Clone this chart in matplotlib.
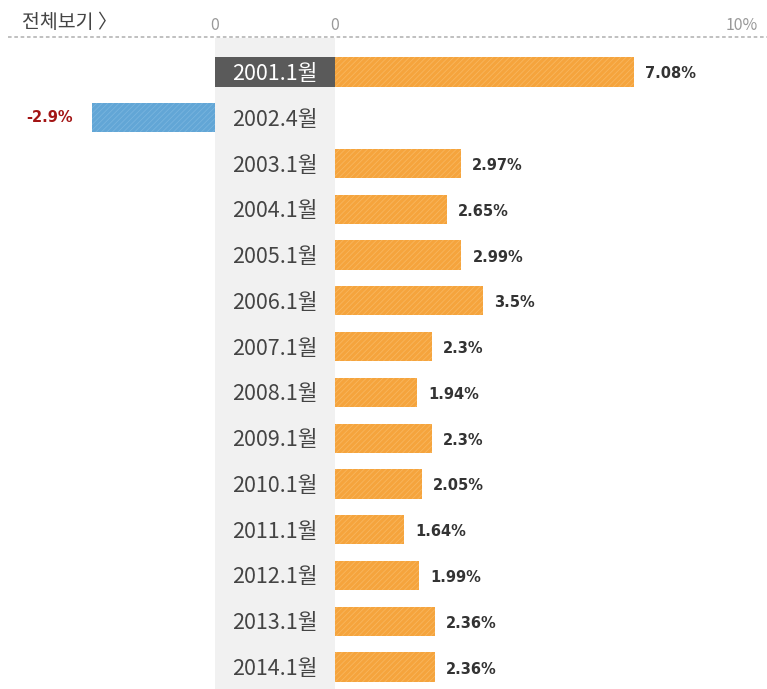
"""Korean monthly rate bar chart (diverging, label column in the middle)."""
import matplotlib
matplotlib.use("Agg")
import matplotlib.pyplot as plt
from matplotlib.lines import Line2D

plt.rcParams['font.family'] = ['Noto Sans CJK KR', 'DejaVu Sans']
plt.rcParams['hatch.linewidth'] = 0.6

# data
periods = ["2001.1월", "2002.4월", "2003.1월", "2004.1월", "2005.1월", "2006.1월", "2007.1월",
           "2008.1월", "2009.1월", "2010.1월", "2011.1월", "2012.1월", "2013.1월", "2014.1월"]
values = [7.08, -2.9, 2.97, 2.65, 2.99, 3.5, 2.3, 1.94, 2.3, 2.05, 1.64, 1.99, 2.36, 2.36]
value_labels = ["7.08%", "-2.9%", "2.97%", "2.65%", "2.99%", "3.5%", "2.3%",
                "1.94%", "2.3%", "2.05%", "1.64%", "1.99%", "2.36%", "2.36%"]
highlight = "2001.1월"

W, H = 767, 689
PX_PER_PCT = 42.3
ROW_TOP, ROW_STEP = 72, 45.77   # pixel centre of first row, row spacing
AX_TOP = 38                     # dotted line

ORANGE, ORANGE_H = '#f5a43d', '#f8b65e'
BLUE, BLUE_H = '#62a6d6', '#78b4de'
GRAY_BAND = '#f1f1f1'


def fx(px):
    return px / W


def fy(px):
    return 1 - px / H


fig = plt.figure(figsize=(W / 100, H / 100), dpi=100, facecolor='white')

# all three panels share the same row scale
n = len(periods)
y_top = -(ROW_TOP - AX_TOP) / ROW_STEP
y_bot = (n - 1) + (H - (ROW_TOP + (n - 1) * ROW_STEP)) / ROW_STEP
ax_h = (H - AX_TOP) / H

ax_l = fig.add_axes([0, 0, fx(215), ax_h])
ax_m = fig.add_axes([fx(215), 0, fx(335 - 215), ax_h])
ax_r = fig.add_axes([fx(335), 0, fx(10 * PX_PER_PCT), ax_h])

for ax in (ax_l, ax_m, ax_r):
    ax.set_ylim(y_bot, y_top)
    ax.axis('off')

ax_l.set_xlim(-215 / PX_PER_PCT, 0)
ax_r.set_xlim(0, 10)
ax_m.set_xlim(0, 1)

# grey label column
ax_m.add_patch(plt.Rectangle((0, 0), 1, 1, transform=ax_m.transAxes,
                             facecolor=GRAY_BAND, edgecolor='none', zorder=0))

rows = list(range(n))
bar_h = 0.64

pos = [max(v, 0) for v in values]
neg = [min(v, 0) for v in values]
ax_r.barh(rows, pos, height=bar_h, color=ORANGE, edgecolor=ORANGE_H,
          linewidth=0, hatch='//////')
ax_l.barh(rows, neg, height=bar_h, color=BLUE, edgecolor=BLUE_H,
          linewidth=0, hatch='//////')

# value labels
for i, (v, lab) in enumerate(zip(values, value_labels)):
    if v >= 0:
        ax_r.annotate(lab, (v, i), xytext=(11, -2), textcoords='offset pixels',
                      ha='left', va='center', fontsize=10.5, fontweight='bold',
                      color='#333333', family=['DejaVu Sans'])
    else:
        ax_l.annotate(lab, (v, i), xytext=(-19, 0), textcoords='offset pixels',
                      ha='right', va='center', fontsize=10.5, fontweight='bold',
                      color='#a31515', family=['DejaVu Sans'])

# period labels, the selected one on a dark box
for i, p in enumerate(periods):
    if p == highlight:
        ax_m.barh(i, 1, left=0, height=bar_h, color='#5a5a5a', zorder=1)
        colour = 'white'
    else:
        colour = '#444444'
    ax_m.annotate(p, (0.5, i), xytext=(0, -2), textcoords='offset pixels',
                  ha='center', va='center', fontsize=15.5, color=colour, zorder=2)

# header
fig.add_artist(Line2D([fx(8), 1], [fy(37), fy(37)], transform=fig.transFigure,
                      color='#bbbbbb', linestyle=(0, (2, 1.5)), linewidth=1.3))
fig.text(fx(22), fy(23), "전체보기 〉", ha='left', va='center', fontsize=14,
         color='#444444')
scale_y = 1 + 12 / (H - AX_TOP)
ax_l.text(0, scale_y, "0", transform=ax_l.get_xaxis_transform(), ha='center',
          va='center', fontsize=11.5, color='#999999')
ax_r.text(0, scale_y, "0", transform=ax_r.get_xaxis_transform(), ha='center',
          va='center', fontsize=11.5, color='#999999')
ax_r.text(10, scale_y, "10%", transform=ax_r.get_xaxis_transform(), ha='right',
          va='center', fontsize=11.5, color='#999999')

fig.savefig("out.png", dpi=100)
